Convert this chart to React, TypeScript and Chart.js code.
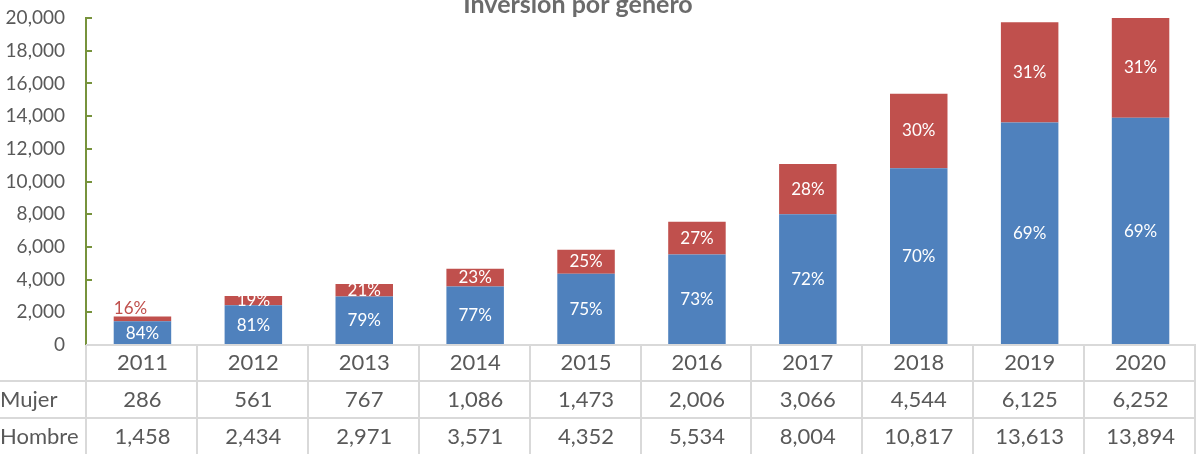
import React, { useEffect, useRef } from "react";
import { Chart, registerables } from "chart.js";

Chart.register(...registerables);

const years = ["2011", "2012", "2013", "2014", "2015", "2016", "2017", "2018", "2019", "2020"];
const mujer = [286, 561, 767, 1086, 1473, 2006, 3066, 4544, 6125, 6252];
const hombre = [1458, 2434, 2971, 3571, 4352, 5534, 8004, 10817, 13613, 13894];
const seriesNames = ["Mujer", "Hombre"];
const titleText = "Inversión por género";
const yMax = 20000;
const yStep = 2000;

const FONT = "Lato, 'Open Sans', sans-serif";
const BLUE = "#4F81BD";
const RED = "#C0504D";
const TEXT = "#595959";
const GRID = "#D9D9D9";
const AXIS_GREEN = "#77933C";

const fmt = (v: number) => v.toLocaleString("en-US");

const App: React.FC = () => {
  const ref = useRef<HTMLCanvasElement | null>(null);

  useEffect(() => {
    document.body.style.margin = "0";
    const canvas = ref.current;
    if (!canvas) return;

    const titlePlugin = {
      id: "titleTop",
      afterDraw(chart: any) {
        const ctx = chart.ctx;
        ctx.save();
        ctx.font = `bold 25px ${FONT}`;
        ctx.fillStyle = "#6B6B6B";
        ctx.textAlign = "center";
        ctx.textBaseline = "alphabetic";
        ctx.fillText(titleText, 578, 13);
        ctx.restore();
      },
    };

    const axisPlugin = {
      id: "greenAxis",
      afterDraw(chart: any) {
        const { ctx, chartArea } = chart;
        const y = chart.scales.y;
        ctx.save();
        ctx.strokeStyle = AXIS_GREEN;
        ctx.lineWidth = 2;
        ctx.beginPath();
        ctx.moveTo(chartArea.left - 1, chartArea.top);
        ctx.lineTo(chartArea.left - 1, chartArea.bottom);
        ctx.stroke();
        for (let v = 0; v <= yMax; v += yStep) {
          const py = Math.round(y.getPixelForValue(v));
          ctx.beginPath();
          ctx.moveTo(chartArea.left - 2, py);
          ctx.lineTo(chartArea.left + 5, py);
          ctx.stroke();
        }
        ctx.restore();
      },
    };

    const tablePlugin = {
      id: "dataTable",
      afterDraw(chart: any) {
        const { ctx, chartArea } = chart;
        const x = chart.scales.x;
        const colW = x.getPixelForValue(1) - x.getPixelForValue(0);
        const left = chartArea.left - 1;
        const right = 1196;
        const rows = [345, 381, 418, 456];
        ctx.save();
        ctx.strokeStyle = GRID;
        ctx.lineWidth = 2;
        ctx.beginPath();
        ctx.moveTo(left, rows[0]);
        ctx.lineTo(right, rows[0]);
        ctx.moveTo(0, rows[1]);
        ctx.lineTo(right, rows[1]);
        ctx.moveTo(0, rows[2]);
        ctx.lineTo(right, rows[2]);
        ctx.stroke();
        ctx.beginPath();
        for (let i = 0; i <= years.length; i++) {
          const px = Math.round(left + i * colW);
          ctx.moveTo(px, rows[0]);
          ctx.lineTo(px, 454);
        }
        ctx.stroke();

        ctx.fillStyle = TEXT;
        ctx.font = `22px ${FONT}`;
        ctx.textBaseline = "middle";
        ctx.textAlign = "center";
        const rowData = [years, mujer.map(fmt), hombre.map(fmt)];
        rowData.forEach((arr, r) => {
          const cy = (rows[r] + rows[r + 1]) / 2;
          arr.forEach((t, i) => {
            ctx.fillText(t, x.getPixelForValue(i), cy);
          });
        });
        ctx.textAlign = "left";
        ctx.fillText(seriesNames[0], 0, (rows[1] + rows[2]) / 2);
        ctx.fillText(seriesNames[1], 0, (rows[2] + rows[3]) / 2);
        ctx.restore();
      },
    };

    const labelPlugin = {
      id: "pctLabels",
      afterDatasetsDraw(chart: any) {
        const { ctx, chartArea } = chart;
        ctx.save();
        ctx.font = `17px ${FONT}`;
        ctx.textAlign = "center";
        ctx.textBaseline = "middle";
        chart.data.datasets.forEach((ds: any, di: number) => {
          const meta = chart.getDatasetMeta(di);
          meta.data.forEach((bar: any, i: number) => {
            const total = hombre[i] + mujer[i];
            const pct = Math.round((ds.data[i] / total) * 100) + "%";
            const top = Math.max(bar.y, chartArea.top);
            const base = bar.base;
            const h = base - top;
            if (h < 8) {
              ctx.fillStyle = RED;
              ctx.fillText(pct, bar.x - 12, top - 8);
            } else {
              ctx.fillStyle = "#FFFFFF";
              ctx.fillText(pct, bar.x, (top + base) / 2);
            }
          });
        });
        ctx.restore();
      },
    };

    const chart = new Chart(canvas, {
      type: "bar",
      data: {
        labels: years,
        datasets: [
          {
            label: seriesNames[1],
            data: hombre,
            backgroundColor: BLUE,
            borderWidth: 0,
            barPercentage: 0.72,
            categoryPercentage: 0.72,
          },
          {
            label: seriesNames[0],
            data: mujer,
            backgroundColor: RED,
            borderWidth: 0,
            barPercentage: 0.72,
            categoryPercentage: 0.72,
          },
        ],
      },
      options: {
        animation: false,
        responsive: false,
        maintainAspectRatio: false,
        layout: { padding: { top: 18, bottom: 109, left: 0, right: 0 } },
        plugins: {
          legend: { display: false },
          title: { display: false },
          tooltip: { enabled: false },
        },
        scales: {
          x: {
            stacked: true,
            display: false,
          },
          y: {
            stacked: true,
            min: 0,
            max: yMax,
            grid: { display: false, drawTicks: false },
            border: { display: false },
            ticks: {
              stepSize: yStep,
              padding: 22,
              color: TEXT,
              font: { family: FONT, size: 19 },
              callback: (v: any) => fmt(Number(v)),
            },
            afterFit: (scale: any) => {
              scale.width = 87;
              scale.paddingTop = 0;
              scale.paddingBottom = 0;
            },
          },
        },
      },
      plugins: [titlePlugin, axisPlugin, labelPlugin, tablePlugin],
    });

    return () => {
      chart.destroy();
    };
  }, []);

  return <canvas ref={ref} width={1196} height={454} style={{ display: "block" }} />;
};

export default App;
